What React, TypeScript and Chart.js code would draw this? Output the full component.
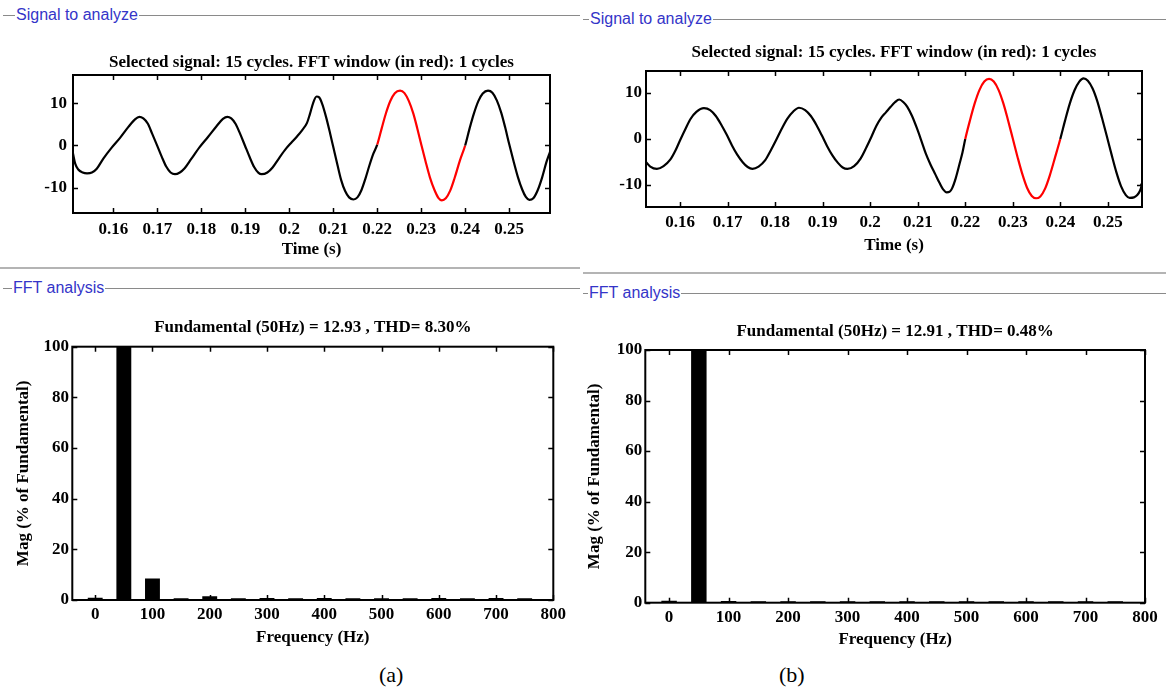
import React, { useEffect, useRef } from "react";
import { Chart, registerables } from "chart.js";

Chart.register(...registerables);

// ---------- data ----------
const TIME_A = [
  0.1508, 0.1513, 0.152, 0.153, 0.154, 0.1551, 0.1562, 0.1577, 0.1596, 0.1615,
  0.1634, 0.1649, 0.1659, 0.1668, 0.1678, 0.1688, 0.1699, 0.171, 0.172, 0.173,
  0.174, 0.1751, 0.1762, 0.1777, 0.1796, 0.1815, 0.1834, 0.1849, 0.1859, 0.1868,
  0.1878, 0.1888, 0.1899, 0.191, 0.192, 0.193, 0.1937, 0.195, 0.1962, 0.1978,
  0.1993, 0.2004, 0.2018, 0.2029, 0.204, 0.2047, 0.2054, 0.2062, 0.2068, 0.2075,
  0.2084, 0.2093, 0.2101, 0.211, 0.2118, 0.2127, 0.2136, 0.2146, 0.2155, 0.2164,
  0.2173, 0.2182, 0.2191, 0.22, 0.221, 0.222, 0.223, 0.224, 0.2252, 0.2262,
  0.2272, 0.2282, 0.2291, 0.23, 0.231, 0.232, 0.233, 0.2339, 0.2347, 0.2356,
  0.2366, 0.2376, 0.2388, 0.24, 0.241, 0.242, 0.243, 0.244, 0.2452, 0.2462,
  0.2472, 0.2482, 0.2491, 0.25, 0.251, 0.252, 0.253, 0.2538, 0.2546, 0.2555,
  0.2565, 0.2575, 0.2585, 0.2593,
];
const SIGNAL_A = [
  -1.9, -4.3, -5.7, -6.4, -6.6, -6.4, -5.5, -3.1, -0.5, 1.8,
  4.4, 6.2, 6.8, 6.4, 5.2, 2.8, 0.1, -2.7, -5.0, -6.4,
  -6.8, -6.4, -5.4, -3.2, -0.4, 2.0, 4.5, 6.3, 6.8, 6.4,
  5.1, 2.8, 0.0, -2.8, -5.1, -6.5, -6.8, -6.4, -5.2, -2.8,
  -0.7, 0.6, 2.2, 3.6, 5.3, 7.5, 10.0, 11.6, 11.4, 9.8,
  6.6, 2.8, -0.8, -4.8, -8.2, -10.8, -12.3, -12.8, -12.3, -10.6,
  -7.9, -4.8, -2.0, 0.2, 4.0, 7.7, 10.6, 12.4, 13.0, 12.4,
  10.5, 7.6, 4.1, 0.3, -3.8, -7.6, -10.5, -12.4, -13.0, -12.5,
  -10.7, -7.7, -3.6, 0.0, 4.0, 7.6, 10.5, 12.3, 13.0, 12.5,
  10.7, 7.8, 4.3, 0.4, -3.7, -7.5, -10.5, -12.2, -12.9, -12.5,
  -10.6, -7.6, -3.9, -1.5,
];
const TIME_B = [
  0.1528, 0.1537, 0.1551, 0.1565, 0.1579, 0.159, 0.16, 0.1611, 0.1622, 0.1634,
  0.165, 0.1663, 0.1675, 0.1687, 0.1698, 0.1709, 0.172, 0.1732, 0.1742, 0.1752,
  0.1765, 0.1779, 0.179, 0.1803, 0.1814, 0.1826, 0.1838, 0.185, 0.1863, 0.1875,
  0.1887, 0.1898, 0.1909, 0.192, 0.1932, 0.1942, 0.1952, 0.1966, 0.198, 0.1992,
  0.2003, 0.2013, 0.2023, 0.2033, 0.2043, 0.2052, 0.2061, 0.207, 0.2078, 0.2088,
  0.2098, 0.2108, 0.2117, 0.2127, 0.2137, 0.2146, 0.2153, 0.2161, 0.2167, 0.2172,
  0.218, 0.2188, 0.2194, 0.22, 0.221, 0.222, 0.223, 0.224, 0.225, 0.226,
  0.227, 0.228, 0.229, 0.23, 0.231, 0.232, 0.233, 0.234, 0.2349, 0.2358,
  0.2368, 0.2378, 0.2389, 0.24, 0.241, 0.242, 0.243, 0.244, 0.2449, 0.2458,
  0.2468, 0.2478, 0.2488, 0.2498, 0.2508, 0.2518, 0.2528, 0.2538, 0.2546, 0.2555,
  0.2562, 0.2568, 0.2572,
];
const SIGNAL_B = [
  -5.0, -6.0, -6.5, -5.9, -4.5, -2.5, -0.2, 2.2, 4.4, 5.9,
  6.7, 6.3, 5.0, 3.0, 0.9, -1.4, -3.4, -5.1, -6.1, -6.5,
  -6.0, -4.6, -2.6, 0.0, 2.3, 4.5, 6.0, 6.8, 6.3, 5.0,
  3.0, 0.8, -1.5, -3.5, -5.2, -6.2, -6.5, -5.9, -4.2, -1.8,
  0.6, 2.9, 4.6, 5.8, 7.0, 8.0, 8.6, 8.0, 7.0, 5.0,
  2.4, -0.5, -3.2, -5.6, -7.7, -9.6, -10.9, -11.6, -11.5, -10.8,
  -8.5, -5.4, -3.0, 0.0, 4.1, 7.8, 10.7, 12.5, 13.1, 12.5,
  10.7, 7.8, 4.1, 0.1, -3.9, -7.6, -10.6, -12.4, -12.9, -12.5,
  -10.8, -7.9, -4.0, 0.0, 4.0, 7.7, 10.6, 12.5, 13.2, 12.7,
  11.0, 8.2, 4.5, 0.6, -3.4, -7.2, -10.3, -12.2, -12.8, -12.7,
  -12.2, -11.2, -10.0,
];
const RED_START = 0.22;
const RED_END = 0.24;
const TIME_TICKS = [0.16, 0.17, 0.18, 0.19, 0.2, 0.21, 0.22, 0.23, 0.24, 0.25];
const TIME_TICK_LABELS = ["0.16", "0.17", "0.18", "0.19", "0.2", "0.21", "0.22", "0.23", "0.24", "0.25"];
const SIGNAL_TICKS = [-10, 0, 10];

const FREQS = [0, 50, 100, 150, 200, 250, 300, 350, 400, 450, 500, 550, 600, 650, 700, 750];
const MAG_A = [0.9, 100, 8.5, 0.7, 1.5, 0.7, 0.8, 0.7, 0.8, 0.7, 0.7, 0.7, 0.8, 0.7, 0.8, 0.7];
const MAG_B = [0.8, 100, 0.7, 0.6, 0.6, 0.6, 0.6, 0.6, 0.6, 0.6, 0.6, 0.6, 0.6, 0.6, 0.6, 0.6];
const FREQ_TICKS = [0, 100, 200, 300, 400, 500, 600, 700, 800];
const MAG_TICKS = [0, 20, 40, 60, 80, 100];

const TITLE_SIGNAL = "Selected signal: 15 cycles. FFT window (in red): 1 cycles";
const TITLE_FFT_A = "Fundamental (50Hz) = 12.93 , THD= 8.30%";
const TITLE_FFT_B = "Fundamental (50Hz) = 12.91 , THD= 0.48%";

// ---------- styling ----------
const SERIF = '"Liberation Serif", "Times New Roman", serif';
const SANS = '"Liberation Sans", Arial, sans-serif';
const FONT = { family: SERIF, size: 17, weight: "bold" as const };

const framePlugin = {
  id: "frame",
  afterDatasetsDraw(chart: any) {
    const { ctx, chartArea: a, scales } = chart;
    const L = 5;
    ctx.save();
    ctx.strokeStyle = "#000";
    ctx.lineWidth = 1.5;
    ctx.beginPath();
    scales.x.ticks.forEach((t: any) => {
      const px = Math.round(scales.x.getPixelForValue(t.value)) + 0.5;
      ctx.moveTo(px, a.bottom);
      ctx.lineTo(px, a.bottom - L);
      ctx.moveTo(px, a.top);
      ctx.lineTo(px, a.top + L);
    });
    scales.y.ticks.forEach((t: any) => {
      const py = Math.round(scales.y.getPixelForValue(t.value)) + 0.5;
      ctx.moveTo(a.left, py);
      ctx.lineTo(a.left + L, py);
      ctx.moveTo(a.right, py);
      ctx.lineTo(a.right - L, py);
    });
    ctx.stroke();
    ctx.lineWidth = 2;
    ctx.strokeRect(a.left, a.top, a.right - a.left, a.bottom - a.top);
    ctx.restore();
  },
};

type Geo = {
  padRight: number;
  titleTop: number;
  titleBottom: number;
  yWidth: number;
  yTickPad: number;
  yTitlePad?: number;
  xHeight: number;
  xTickPad: number;
  xTitleBottom: number;
};

function baseScales(
  g: Geo,
  xr: { min: number; max: number; ticks: number[]; labels: (v: number, i: number) => string; title: string },
  yr: { min: number; max: number; ticks: number[]; title?: string }
) {
  return {
    x: {
      type: "linear",
      min: xr.min,
      max: xr.max,
      offset: false,
      afterBuildTicks: (s: any) => {
        s.ticks = xr.ticks.map((v) => ({ value: v }));
      },
      afterFit: (s: any) => {
        s.height = g.xHeight;
      },
      ticks: {
        autoSkip: false,
        maxRotation: 0,
        minRotation: 0,
        padding: g.xTickPad,
        color: "#000",
        font: FONT,
        callback: (v: number, i: number) => xr.labels(v, i),
      },
      grid: { display: false, drawTicks: false },
      border: { display: false },
      title: { display: true, text: xr.title, color: "#000", font: FONT, padding: { top: 0, bottom: g.xTitleBottom } },
    },
    y: {
      type: "linear",
      min: yr.min,
      max: yr.max,
      afterBuildTicks: (s: any) => {
        s.ticks = yr.ticks.map((v) => ({ value: v }));
      },
      afterFit: (s: any) => {
        s.width = g.yWidth;
      },
      ticks: {
        padding: g.yTickPad,
        color: "#000",
        font: FONT,
        callback: (v: number) => String(v),
      },
      grid: { display: false, drawTicks: false },
      border: { display: false },
      title: yr.title
        ? { display: true, text: yr.title, color: "#000", font: FONT, padding: { top: g.yTitlePad ?? 0, bottom: 0 } }
        : { display: false },
    },
  };
}

function commonOptions(g: Geo, title: string) {
  return {
    animation: false,
    responsive: false,
    events: [],
    layout: { padding: { left: 0, right: g.padRight, top: 0, bottom: 0 } },
    plugins: {
      legend: { display: false },
      tooltip: { enabled: false },
      title: {
        display: true,
        text: title,
        fullSize: false,
        color: "#000",
        font: FONT,
        padding: { top: g.titleTop, bottom: g.titleBottom },
      },
    },
  };
}

function signalConfig(times: number[], values: number[], g: Geo, xmin: number, xmax: number, ymin: number, ymax: number, endDot: boolean) {
  const last = times.length - 1;
  return {
    type: "line",
    data: {
      datasets: [
        {
          data: times.map((t, i) => ({ x: t, y: values[i] })),
          borderColor: "#000",
          borderWidth: 2.2,
          pointRadius: (c: any) => (endDot && c.dataIndex === last ? 2 : 0),
          pointBackgroundColor: "#000",
          pointBorderWidth: 0,
          cubicInterpolationMode: "monotone",
          segment: {
            borderColor: (c: any) =>
              c.p0.parsed.x >= RED_START - 1e-6 && c.p1.parsed.x <= RED_END + 1e-6 ? "#ff0000" : "#000",
          },
        },
      ],
    },
    options: {
      ...commonOptions(g, TITLE_SIGNAL),
      scales: baseScales(
        g,
        { min: xmin, max: xmax, ticks: TIME_TICKS, labels: (_v, i) => TIME_TICK_LABELS[i], title: "Time (s)" },
        { min: ymin, max: ymax, ticks: SIGNAL_TICKS }
      ),
    },
    plugins: [framePlugin],
  };
}

function fftConfig(mags: number[], g: Geo, title: string) {
  return {
    type: "bar",
    data: {
      datasets: [
        {
          data: FREQS.map((f, i) => ({ x: f, y: mags[i] })),
          backgroundColor: "#000",
          borderWidth: 0,
          barPercentage: 0.52,
          categoryPercentage: 1,
        },
      ],
    },
    options: {
      ...commonOptions(g, title),
      scales: baseScales(
        g,
        { min: -40, max: 800, ticks: FREQ_TICKS, labels: (v) => String(v), title: "Frequency (Hz)" },
        { min: 0, max: 100, ticks: MAG_TICKS, title: "Mag (% of Fundamental)" }
      ),
    },
    plugins: [framePlugin],
  };
}

// ---------- components ----------
function ChartCanvas({ left, top, width, height, make }: { left: number; top: number; width: number; height: number; make: () => any }) {
  const ref = useRef<HTMLCanvasElement | null>(null);
  useEffect(() => {
    const chart = new Chart(ref.current as HTMLCanvasElement, make());
    return () => chart.destroy();
  }, []);
  return (
    <canvas
      ref={ref}
      width={width}
      height={height}
      style={{ position: "absolute", left, top, width, height, display: "block" }}
    />
  );
}

function SectionHeader({ x, y, width, textLeft, text }: { x: number; y: number; width: number; textLeft: number; text: string }) {
  return (
    <div style={{ position: "absolute", left: x, top: y, width, height: 0, borderTop: "1px solid #8a8a8a" }}>
      <span
        style={{
          position: "absolute",
          left: textLeft,
          top: -11,
          background: "#fff",
          color: "#3434c8",
          fontFamily: SANS,
          fontSize: 16,
          lineHeight: "20px",
          padding: "0 1px",
          whiteSpace: "nowrap",
        }}
      >
        {text}
      </span>
    </div>
  );
}

function Rule({ x, y, width }: { x: number; y: number; width: number }) {
  return <div style={{ position: "absolute", left: x, top: y, width, height: 2, background: "#b4b4b4" }} />;
}

const GEO_TL: Geo = { padRight: 30, titleTop: 22.8, titleBottom: 1.8, yWidth: 73, yTickPad: 6, xHeight: 53, xTickPad: 6.8, xTitleBottom: 5.8 };
const GEO_TR: Geo = { padRight: 24, titleTop: 12.8, titleBottom: 7.8, yWidth: 63, yTickPad: 4, xHeight: 59, xTickPad: 5.8, xTitleBottom: 9.8 };
const GEO_BL: Geo = { padRight: 26.7, titleTop: 22.8, titleBottom: 8.5, yWidth: 72.3, yTickPad: 3.3, yTitlePad: 13.8, xHeight: 60, xTickPad: 4.8, xTitleBottom: 11.8 };
const GEO_BR: Geo = { padRight: 21, titleTop: 26.8, titleBottom: 7.8, yWidth: 62.3, yTickPad: 3, yTitlePad: 1.5, xHeight: 57.3, xTickPad: 5.1, xTitleBottom: 9.8 };

export default function App() {
  return (
    <div style={{ position: "absolute", left: 0, top: 0, width: 1166, height: 693, background: "#fff", overflow: "hidden" }}>
      <SectionHeader x={3} y={15} width={577} textLeft={12} text="Signal to analyze" />
      <SectionHeader x={583} y={19} width={583} textLeft={6} text="Signal to analyze" />
      <Rule x={0} y={267} width={580} />
      <Rule x={583} y={272} width={583} />
      <SectionHeader x={3} y={288} width={577} textLeft={9} text="FFT analysis" />
      <SectionHeader x={583} y={293} width={583} textLeft={5} text="FFT analysis" />

      <ChartCanvas left={0} top={30} width={580} height={236}
        make={() => signalConfig(TIME_A, SIGNAL_A, GEO_TL, 0.1508, 0.2593, -16, 16.7, false)} />
      <ChartCanvas left={583} top={30} width={583} height={236}
        make={() => signalConfig(TIME_B, SIGNAL_B, GEO_TR, 0.1528, 0.2572, -14.8, 14.8, true)} />
      <ChartCanvas left={0} top={295} width={580} height={365}
        make={() => fftConfig(MAG_A, GEO_BL, TITLE_FFT_A)} />
      <ChartCanvas left={583} top={295} width={583} height={365}
        make={() => fftConfig(MAG_B, GEO_BR, TITLE_FFT_B)} />

      <div style={{ position: "absolute", left: 379, top: 662, fontFamily: SERIF, fontSize: 22, lineHeight: "26px", color: "#000" }}>(a)</div>
      <div style={{ position: "absolute", left: 779, top: 662, fontFamily: SERIF, fontSize: 22, lineHeight: "26px", color: "#000" }}>(b)</div>
    </div>
  );
}
